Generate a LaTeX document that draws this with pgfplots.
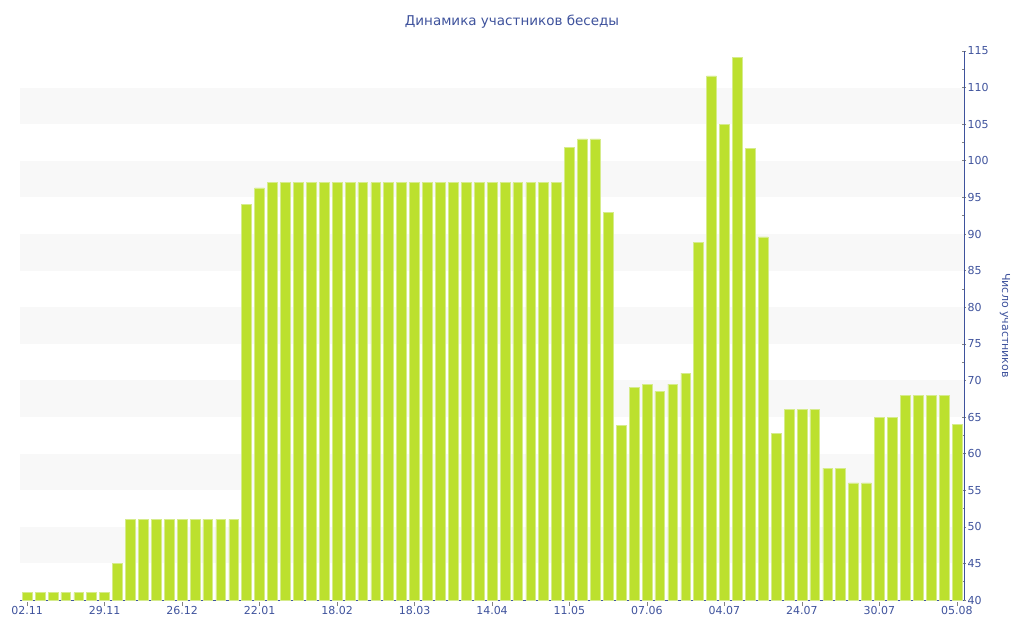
\documentclass[border=0pt]{standalone}
\usepackage{pgfplots}
\pgfplotsset{compat=1.18}
\usepackage{fontspec}
\setmainfont{DejaVu Sans}
\definecolor{txtblue}{RGB}{62,82,156}
\definecolor{barfill}{RGB}{188,224,46}
\definecolor{baredge}{RGB}{214,236,140}
\definecolor{band}{RGB}{248,248,248}
\definecolor{tickgray}{RGB}{130,130,130}
\begin{document}
\begin{tikzpicture}
\useasboundingbox (-20pt,-40pt) rectangle (1004pt,600pt);
\begin{axis}[
  at={(0pt,0pt)}, anchor=south west,
  scale only axis, width=944pt, height=549pt,
  xmin=-0.55, xmax=72.55, ymin=40, ymax=115,
  axis x line*=bottom, axis y line*=right,
  axis line style={txtblue, line width=0.8pt, -},
  ytick={40,45,...,115}, minor ytick={42.5,47.5,...,112.5},
  yticklabel pos=right,
  xtick={0,6,...,72},
  xticklabels={02.11,29.11,26.12,22.01,18.02,18.03,14.04,11.05,07.06,04.07,24.07,30.07,05.08},
  x tick label style={font=\fontsize{11}{12}\selectfont, text=txtblue, yshift=1pt},
  y tick label style={font=\fontsize{11}{12}\selectfont, text=txtblue, xshift=-2pt},
  /pgf/number format/assume math mode=true,
  major tick length=4pt, minor tick length=2.5pt,
  tick style={tickgray, line width=0.6pt},
  xtick style={tickgray, yshift=-2pt},
  ytick align=center,
  minor tick style={tickgray, line width=0.6pt, xshift=-1.25pt},
  ylabel={Число участников},
  ylabel style={font=\fontsize{11}{13}\selectfont, text=txtblue, rotate=180, at={(axis description cs:1.0434,0.5)}, anchor=center},
  ybar, bar width=9.8pt,
  axis on top=false,
  clip=true,
]
\pgfplotsinvokeforeach{45,55,65,75,85,95,105}{
  \fill[band] (axis cs:-0.55,#1) rectangle (axis cs:72.55,#1+5);
}
\addplot[fill=barfill, draw=baredge, line width=0.6pt] coordinates {
(0,41) (1,41) (2,41) (3,41) (4,41) (5,41) (6,41)
(7,45)
(8,51) (9,51) (10,51) (11,51) (12,51) (13,51) (14,51) (15,51) (16,51)
(17,94) (18,96.3)
(19,97) (20,97) (21,97) (22,97) (23,97) (24,97) (25,97) (26,97) (27,97) (28,97)
(29,97) (30,97) (31,97) (32,97) (33,97) (34,97) (35,97) (36,97) (37,97) (38,97)
(39,97) (40,97) (41,97)
(42,101.8) (43,103) (44,103) (45,93) (46,63.8)
(47,69) (48,69.5) (49,68.5) (50,69.5) (51,71) (52,88.9)
(53,111.6) (54,105) (55,114.1) (56,101.7) (57,89.6) (58,62.8)
(59,66) (60,66) (61,66) (62,58) (63,58) (64,56) (65,56)
(66,65) (67,65) (68,68) (69,68) (70,68) (71,68) (72,64)
};
\end{axis}
\node[text=txtblue, font=\fontsize{13.5}{15}\selectfont] at (492pt,578pt) {Динамика участников беседы};
\end{tikzpicture}
\end{document}
